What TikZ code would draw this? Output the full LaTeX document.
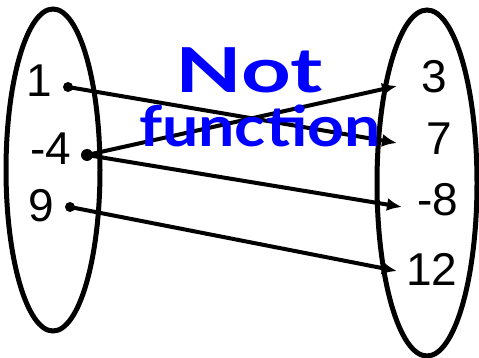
\documentclass[tikz,border=0pt]{standalone}
\usepackage{fontspec}
\setmainfont{Liberation Sans}
\newfontfamily\handfont{Lato}
\usetikzlibrary{arrows.meta}

\begin{document}
\begin{tikzpicture}[x=1pt, y=-1pt,
    num/.style={anchor=base, inner sep=0pt, font=\fontsize{46}{50}\selectfont},
    pt/.style={circle, fill=black, inner sep=0pt, minimum size=10pt},
    maparrow/.style={line width=4pt, black, -{Latex[length=15pt,width=13pt]}},
    note/.style={anchor=base, inner sep=0pt, text=blue, font=\handfont\bfseries}]
    \useasboundingbox (0,0) rectangle (479,358);
    % domain and range
    \draw[line width = 5pt] (53,170) ellipse (47pt and 161pt);
    \draw[line width = 5pt] (427,183) ellipse (50pt and 173pt);
    \node[num] (x1) at (39,97) {1};
    \node[num] (x4) at (51,165) {-4};
    \node[num] (x9) at (41,222) {9};
    \node[num] (y3) at (434,93) {3};
    \node[num] (y7) at (439,155) {7};
    \node[num] (y8) at (438,215) {-8};
    \node[num] (y12) at (432,285) {12};
    \node[pt] (d1) at (68,87) {};
    \node[pt, minimum size=12pt] (d4) at (87,155) {};
    \node[pt] (d9) at (70,207) {};
    \coordinate (e3) at (397,86);
    \coordinate (e7) at (397,143);
    \coordinate (e8) at (402,207);
    \coordinate (e12) at (397,271);
    % mapping
    \draw[maparrow] (d1.center) -- (e7);
    \draw[maparrow] (d4.center) -- (e3);
    \draw[maparrow] (d4.center) -- (e8);
    \draw[maparrow] (d9.center) -- (e12);
    % note
    \node[note] (nt) at (249,93) {\fontsize{62}{64}\selectfont\scalebox{1.4}[1]{Not}};
    \node[note] (fn) at (260,147) {\fontsize{56}{58}\selectfont\scalebox{1.15}[1]{function}};
\end{tikzpicture}
\end{document}
